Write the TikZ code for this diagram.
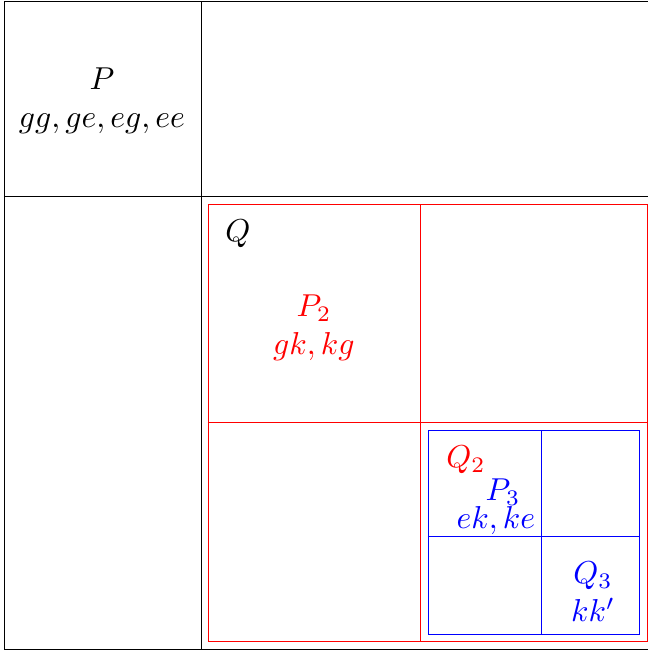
\documentclass[tikz,border=0pt]{standalone}
\usepackage{amsmath,amssymb}
\usepackage{xcolor,tikz}

\begin{document}
\begin{tikzpicture}[x=0.0111cm,y=-0.0111cm,line width=0.3pt]
\useasboundingbox (0,0) rectangle (648,653);
\draw (4,1) rectangle (652,649);
\draw (4,196) -- (652,196);
\draw (201,1) -- (201,649);
\node[align=center] (pset) at (102,101) {$P$\\$gg,ge,eg,ee$};
\node (qlabel) at (238,234) {$Q$};
\draw[red] (208,204) rectangle (647,641);
\draw[red] (420,204) -- (420,641);
\draw[red] (208,422) -- (647,422);
\node[align=center,text=red] (ptwo) at (314,328) {$P_2$\\$gk,kg$};
\node[text=red] (qtwo) at (466,460) {$Q_2$};
\draw[blue] (428,430) rectangle (639,634);
\draw[blue] (541,430) -- (541,634);
\draw[blue] (428,536) -- (639,536);
\node[text=blue,inner sep=0pt] (pthree) at (503,492) {$P_3$};
\node[text=blue,inner sep=0pt] (ekke) at (496,521) {$ek,ke$};
\node[align=center,text=blue] (qthree) at (593,592) {$Q_3$\\$kk'$};
\end{tikzpicture}
\end{document}
